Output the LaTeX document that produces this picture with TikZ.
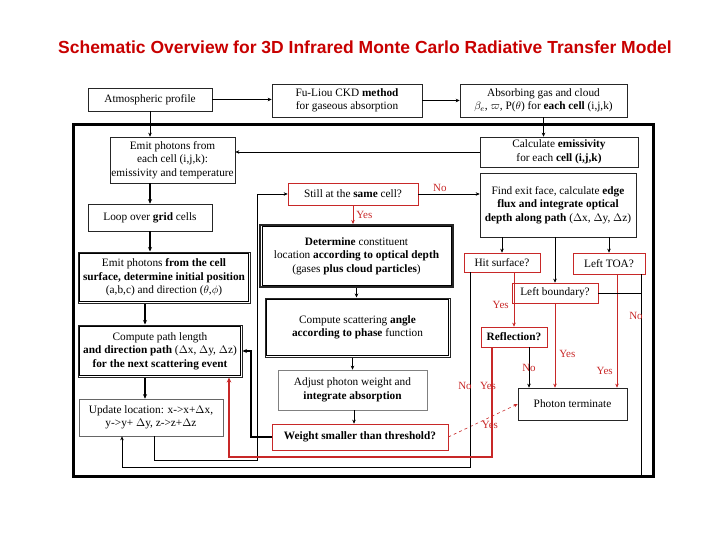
\documentclass[tikz,border=0pt]{standalone}
\usepackage{fontspec}
\setmainfont{Liberation Serif}
\newfontfamily\titlefont{Liberation Sans}
\usetikzlibrary{arrows.meta}
\definecolor{rd}{RGB}{200,40,40}
\definecolor{tred}{RGB}{200,0,0}
\begin{document}
\begin{tikzpicture}[x=1pt,y=-1pt,
  box/.style={draw=black!85,line width=0.6pt,align=center,inner sep=1pt,font=\fontsize{11.3}{13.5}\selectfont},
  rbox/.style={box,draw=rd},
  dbox/.style={box,line width=1pt},
  tdbox/.style={box,line width=2pt},
  arr/.style={-{Stealth[length=4pt,width=3.5pt]},line width=0.6pt},
  tarr/.style={-{Stealth[length=4.5pt,width=4pt]},line width=1.2pt},
  rarr/.style={arr,draw=rd,-{Stealth[length=4pt,width=3.5pt,fill=rd]}},
  inner/.style={line width=0.6pt},
  lbl/.style={text=rd,font=\fontsize{11}{13}\selectfont,inner sep=1pt}]
\useasboundingbox (0,0) rectangle (720,540);
\node[font=\titlefont\bfseries\fontsize{17.5}{20}\selectfont,text=tred] (title) at (365,47) {Schematic Overview for 3D Infrared Monte Carlo Radiative Transfer Model};
\draw[line width=3pt] (73,125) rectangle (653,476);
% boxes
\node[box,minimum width=124pt,minimum height=23pt] (atm) at (150,99.5) {Atmospheric profile};
\node[box,minimum width=150pt,minimum height=33pt] (fu) at (347,100.5) {Fu-Liou CKD \textbf{method}\\for gaseous absorption};
\node[box,minimum width=167pt,minimum height=33pt] (abs) at (543.5,100.5) {Absorbing gas and cloud\\$\beta_e$, $\varpi$, P($\theta$) for \textbf{each cell} (i,j,k)};
\node[box,minimum width=125pt,minimum height=46pt] (emit) at (172.5,160) {Emit photons from\\each cell (i,j,k):\\emissivity and temperature};
\node[box,minimum width=124pt,minimum height=27pt] (loop) at (150,217.5) {Loop over \textbf{grid} cells};
\node[dbox,minimum width=172pt,minimum height=51pt] (surf) at (164,277.5) {Emit photons \textbf{from the cell}\\\textbf{surface, determine initial position}\\(a,b,c) and direction ($\theta$,$\phi$)};
\draw[inner] ([shift={(2.2pt,-2.2pt)}]surf.north west) rectangle ([shift={(-2.2pt,2.2pt)}]surf.south east);
\node[dbox,minimum width=164pt,minimum height=52pt] (comp) at (160,351) {Compute path length\\\textbf{and direction path} ($\Delta$x, $\Delta$y, $\Delta$z)\\\textbf{for the next scattering event}};
\draw[inner] ([shift={(2.2pt,-2.2pt)}]comp.north west) rectangle ([shift={(-2.2pt,2.2pt)}]comp.south east);
\node[box,draw=black!60,minimum width=144pt,minimum height=37pt] (upd) at (151,417.5) {Update location: x->x+$\Delta$x,\\y->y+ $\Delta$y, z->z+$\Delta$z};
\node[rbox,minimum width=130pt,minimum height=22pt] (still) at (353,194) {Still at the \textbf{same} cell?};
\node[tdbox,minimum width=193pt,minimum height=62pt] (det) at (356.5,256) {\textbf{Determine} constituent\\location \textbf{according to optical depth}\\(gases \textbf{plus cloud particles})};
\draw[inner] ([shift={(2.8pt,-2.8pt)}]det.north west) rectangle ([shift={(-2.8pt,2.8pt)}]det.south east);
\node[dbox,minimum width=185pt,minimum height=59pt] (scat) at (357.5,327.5) {Compute scattering \textbf{angle}\\\textbf{according to phase} function};
\draw[inner] ([shift={(2.2pt,-2.2pt)}]scat.north west) rectangle ([shift={(-2.2pt,2.2pt)}]scat.south east);
\node[box,draw=black!50,minimum width=149pt,minimum height=40pt] (adj) at (352.5,390) {Adjust photon weight and\\\textbf{integrate absorption}};
\node[rbox,minimum width=176pt,minimum height=26pt] (wt) at (360,437) {\textbf{Weight smaller than threshold?}};
\node[box,minimum width=158pt,minimum height=30pt] (calc) at (559,152) {Calculate \textbf{emissivity}\\for each \textbf{cell (i,j,k)}};
\node[box,minimum width=156pt,minimum height=64pt] (find) at (558,205) {Find exit face, calculate \textbf{edge}\\\textbf{flux and integrate optical}\\\textbf{depth along path} ($\Delta$x, $\Delta$y, $\Delta$z)};
\node[rbox,minimum width=76pt,minimum height=19pt] (hit) at (502,262.5) {Hit surface?};
\node[rbox,minimum width=72pt,minimum height=21pt] (toa) at (609,263.5) {Left TOA?};
\node[rbox,minimum width=86pt,minimum height=20pt] (lb) at (555,293) {Left boundary?};
\node[rbox,minimum width=66pt,minimum height=20pt] (refl) at (514,337) {\textbf{Reflection?}};
\node[box,minimum width=109pt,minimum height=32pt] (term) at (572.5,404) {Photon terminate};
% top connectors
\draw[arr] (atm.east) -- (fu.west |- atm.east);
\draw[arr] (fu.east) -- (abs.west);
\draw[arr] (atm.south) -- (atm.south |- emit.north);
\draw[arr] (abs.south) -- (abs.south |- calc.north);
\draw[arr] (calc.west) -- (emit.east |- calc.west);
\draw[tarr] (emit.south -| atm.south) -- (atm.south |- loop.north);
\draw[tarr] (loop.south) -- (loop.south |- surf.north);
\draw[tarr] (surf.south -| 145,0) -- (145,0 |- comp.north);
\draw[tarr] (comp.south -| 145,0) -- (145,0 |- upd.north);
% loop back
\coordinate (u1) at (154,460);
\coordinate (u2) at (257,460);
\draw[arr] (upd.south -| u1) -- (u1) -- (u2) -- (u2 |- still.west) -- (still.west);
\draw[rarr] (still.south) -- (still.south |- det.north) node[lbl,pos=0.5,right=2pt] {Yes};
\draw[arr] (still.east) -- (find.west |- still.east) node[lbl,pos=0.35,above=1pt] {No};
\draw[arr] (det.south) -- (det.south |- scat.north);
\draw[arr] (scat.south -| adj.north) -- (adj.north);
\draw[arr] (adj.south -| 354,0) -- (354,0 |- wt.north);
\coordinate (w1) at (251,437);
\draw[tarr] (wt.west) -- (w1) -- (w1 |- comp.east) -- (comp.east);
\draw[rarr,dashed] (wt.east) -- (term.west) node[lbl,pos=0.6,below=3pt] {Yes};
% find connectors
\draw[arr] (find.south -| hit.north) -- (hit.north);
\draw[arr] (find.south -| lb.north) -- (lb.north);
\draw[arr] (find.south -| toa.north) -- (toa.north);
% hit surface
\coordinate (b1) at (470,467);
\coordinate (b2) at (122,467);
\draw[arr,line width=1pt] (hit.south -| b1) -- (b1) -- (b2) -- (b2 |- upd.south);
\node[lbl] (no1) at (465,386) {No};
\draw[rarr] (hit.south -| refl.north) -- (refl.north) node[lbl,pos=0.6,left=4pt] {Yes};
\draw[arr] (refl.south -| 529,0) -- (529,0 |- term.north) node[lbl,pos=0.5] {No};
\coordinate (r1) at (492,457);
\coordinate (r2) at (229,457);
\draw[draw=rd,line width=1.6pt,-{Stealth[length=5pt,width=4.5pt,fill=rd]}] (refl.south -| r1) -- (r1) -- (r2) -- (r2 |- comp.south);
\node[lbl] (yes1) at (488,386) {Yes};
\draw[rarr] (lb.south) -- (lb.south |- term.north) node[lbl,pos=0.6,right=3pt] {Yes};
\draw[rarr] (toa.south -| 617,0) -- (617,0 |- term.north) node[lbl,pos=0.85,left=3pt] {Yes};
\coordinate (t1) at (641,293);
\draw[line width=1pt] (toa.south -| t1) -- (641,475);
\draw[line width=1pt] (lb.east) -- (t1);
\node[lbl] (no2) at (636,316) {No};
\end{tikzpicture}
\end{document}
